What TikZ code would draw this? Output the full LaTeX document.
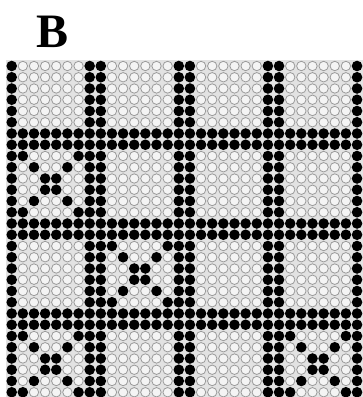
\documentclass[tikz,border=0pt]{standalone}
\usepackage{fontspec}
\setmainfont{Liberation Serif}
\definecolor{bgtint}{HTML}{E2E2E2}
\definecolor{openfill}{HTML}{F4F4F4}
\definecolor{openline}{HTML}{9A9A9A}
\tikzset{
  blackdot/.style={circle,fill=black,draw=none,inner sep=0pt,minimum size=10.6pt},
  opendot/.style={circle,fill=openfill,draw=openline,line width=0.8pt,inner sep=0pt,minimum size=9.4pt},
  panellabel/.style={font=\fontsize{48}{48}\selectfont\bfseries,inner sep=0pt}
}
\begin{document}
\begin{tikzpicture}[x=1pt,y=-1pt]
\useasboundingbox (0,0) rectangle (363,397);
\fill[white] (0,0) rectangle (363,397);
\fill[bgtint] (5.5,59.5) rectangle (363,397);
\node[panellabel] (lbl) at (52.5,32) {B};
\foreach \i in {0,...,31}{
  \foreach \j in {0,...,29}{
    \pgfmathtruncatemacro{\ci}{mod(\i,8)}
    \pgfmathtruncatemacro{\rj}{mod(\j+1,8)}
    \pgfmathtruncatemacro{\bx}{floor(\i/8)}
    \pgfmathtruncatemacro{\by}{floor((\j+1)/8)}
    \pgfmathtruncatemacro{\xb}{((\by==1 && \bx==0) || (\by==2 && \bx==1) || (\by==3 && \bx==0) || (\by==3 && \bx==3)) ? 1 : 0}
    \pgfmathtruncatemacro{\blk}{(\ci==0 || \ci==7 || \rj==0 || \rj==7 || (\xb==1 && (\ci==\rj || \ci+\rj==7))) ? 1 : 0}
    \ifnum\blk=1
      \node[blackdot] (d-\i-\j) at ({11.7+11.14*\i},{66+11.25*\j}) {};
    \else
      \node[opendot] (d-\i-\j) at ({11.7+11.14*\i},{66+11.25*\j}) {};
    \fi
  }
}
\end{tikzpicture}
\end{document}
